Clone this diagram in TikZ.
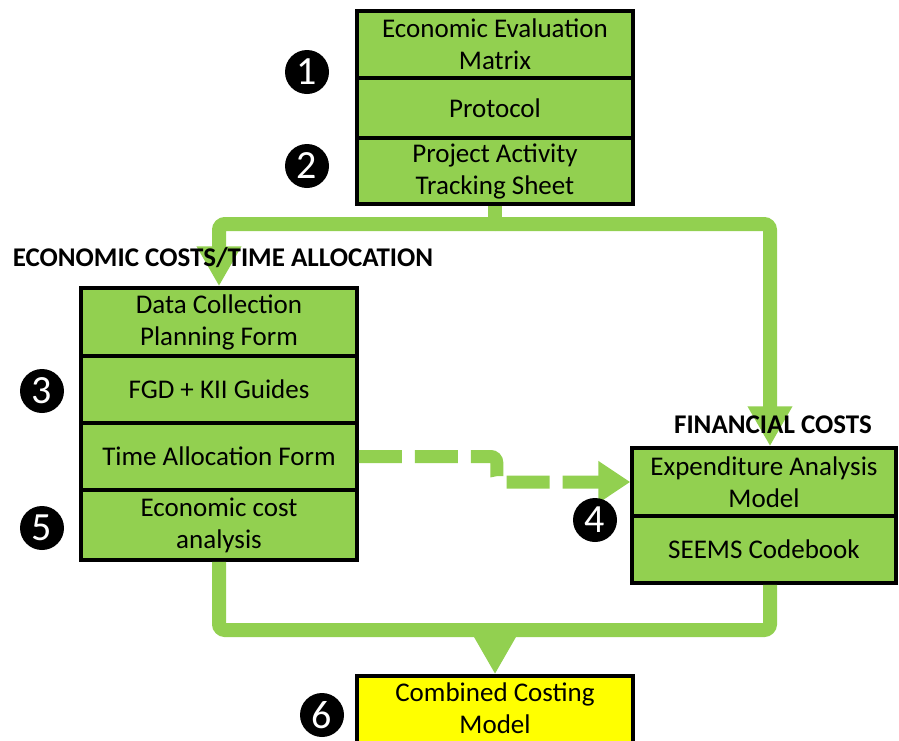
\documentclass[tikz,border=0pt]{standalone}
\usepackage{fontspec}
\setmainfont{Carlito}
\usetikzlibrary{arrows.meta}
\definecolor{lg}{HTML}{92D050}
\definecolor{yel}{HTML}{FFFF00}
\begin{document}
\begin{tikzpicture}[x=1pt,y=-1pt,
  sec/.style={draw=black, line width=3.5pt, fill=lg, inner sep=0pt, align=center,
    font=\fontsize{27}{32}\selectfont},
  topsec/.style={sec, minimum width=276pt},
  rsec/.style={sec, minimum width=264pt},
  num/.style={circle, fill=black, text=white, minimum size=44pt, inner sep=0pt,
    font=\fontsize{40}{40}\selectfont},
  lbl/.style={font=\fontsize{27}{32}\selectfont\bfseries, inner sep=0pt},
  conn/.style={draw=lg, line width=14pt, rounded corners=6pt},
  dconn/.style={draw=lg, line width=13pt, dash pattern=on 43pt off 13pt},
  tip/.style={-{Triangle[length=40pt,width=42pt]}},
  dtip/.style={-{Triangle[length=32pt,width=40pt]}}
]
\path[use as bounding box, fill=white] (0,0) rectangle (899,740);

% top stack
\node[topsec, minimum height=67pt] (eem) at (495,44.5) {Economic Evaluation\\Matrix};
\node[topsec, minimum height=60pt] (prot) at (495,108) {Protocol};
\node[topsec, minimum height=66pt] (pats) at (495,171) {Project Activity\\Tracking Sheet};

% left stack
\node[topsec, minimum height=68pt] (dcpf) at (219,322) {Data Collection\\Planning Form};
\node[topsec, minimum height=67pt] (fgd) at (219,389.5) {FGD + KII Guides};
\node[topsec, minimum height=67pt] (taf) at (219,456.5) {Time Allocation Form};
\node[topsec, minimum height=70pt] (eca) at (219,525) {Economic cost\\analysis};

% right stack
\node[rsec, minimum height=68pt] (eam) at (764,482) {Expenditure Analysis\\Model};
\node[rsec, minimum height=67pt] (seems) at (764,549.5) {SEEMS Codebook};

% combined (box runs past the bottom edge)
\node[topsec, fill=yel, minimum height=90pt] (comb) at (495,721) {};
\node[align=center, inner sep=0pt, font=\fontsize{27}{32}\selectfont] (combtxt) at (495,708) {Combined Costing\\Model};

% connectors
\coordinate (j1) at (495,224);
\draw[conn] (pats.south) -- (j1);
\draw[conn, tip] (j1) -| (dcpf.north);
\draw[conn, tip] (j1) -| ([xshift=6pt]eam.north);

\coordinate (j2) at (495,630);
\draw[conn] (eca.south) |- (j2) -| ([xshift=6pt]seems.south);
\draw[conn, tip] (j2) -- (comb.north);

\draw[dconn, dtip, rounded corners=6pt] (taf.east) -- ++(138pt,0) |- (eam.west);

% labels (drawn over the arrows)
\node[lbl] (lecon) at (223,258) {ECONOMIC COSTS/TIME ALLOCATION};
\node[lbl] (lfin) at (773,425) {FINANCIAL COSTS};

% numbers
\node[num] (n1) at (307,72) {1};
\node[num] (n2) at (307,166) {2};
\node[num] (n3) at (42,391) {3};
\node[num] (n4) at (595,520) {4};
\node[num] (n5) at (42,528) {5};
\node[num] (n6) at (322,715) {6};
\end{tikzpicture}
\end{document}
